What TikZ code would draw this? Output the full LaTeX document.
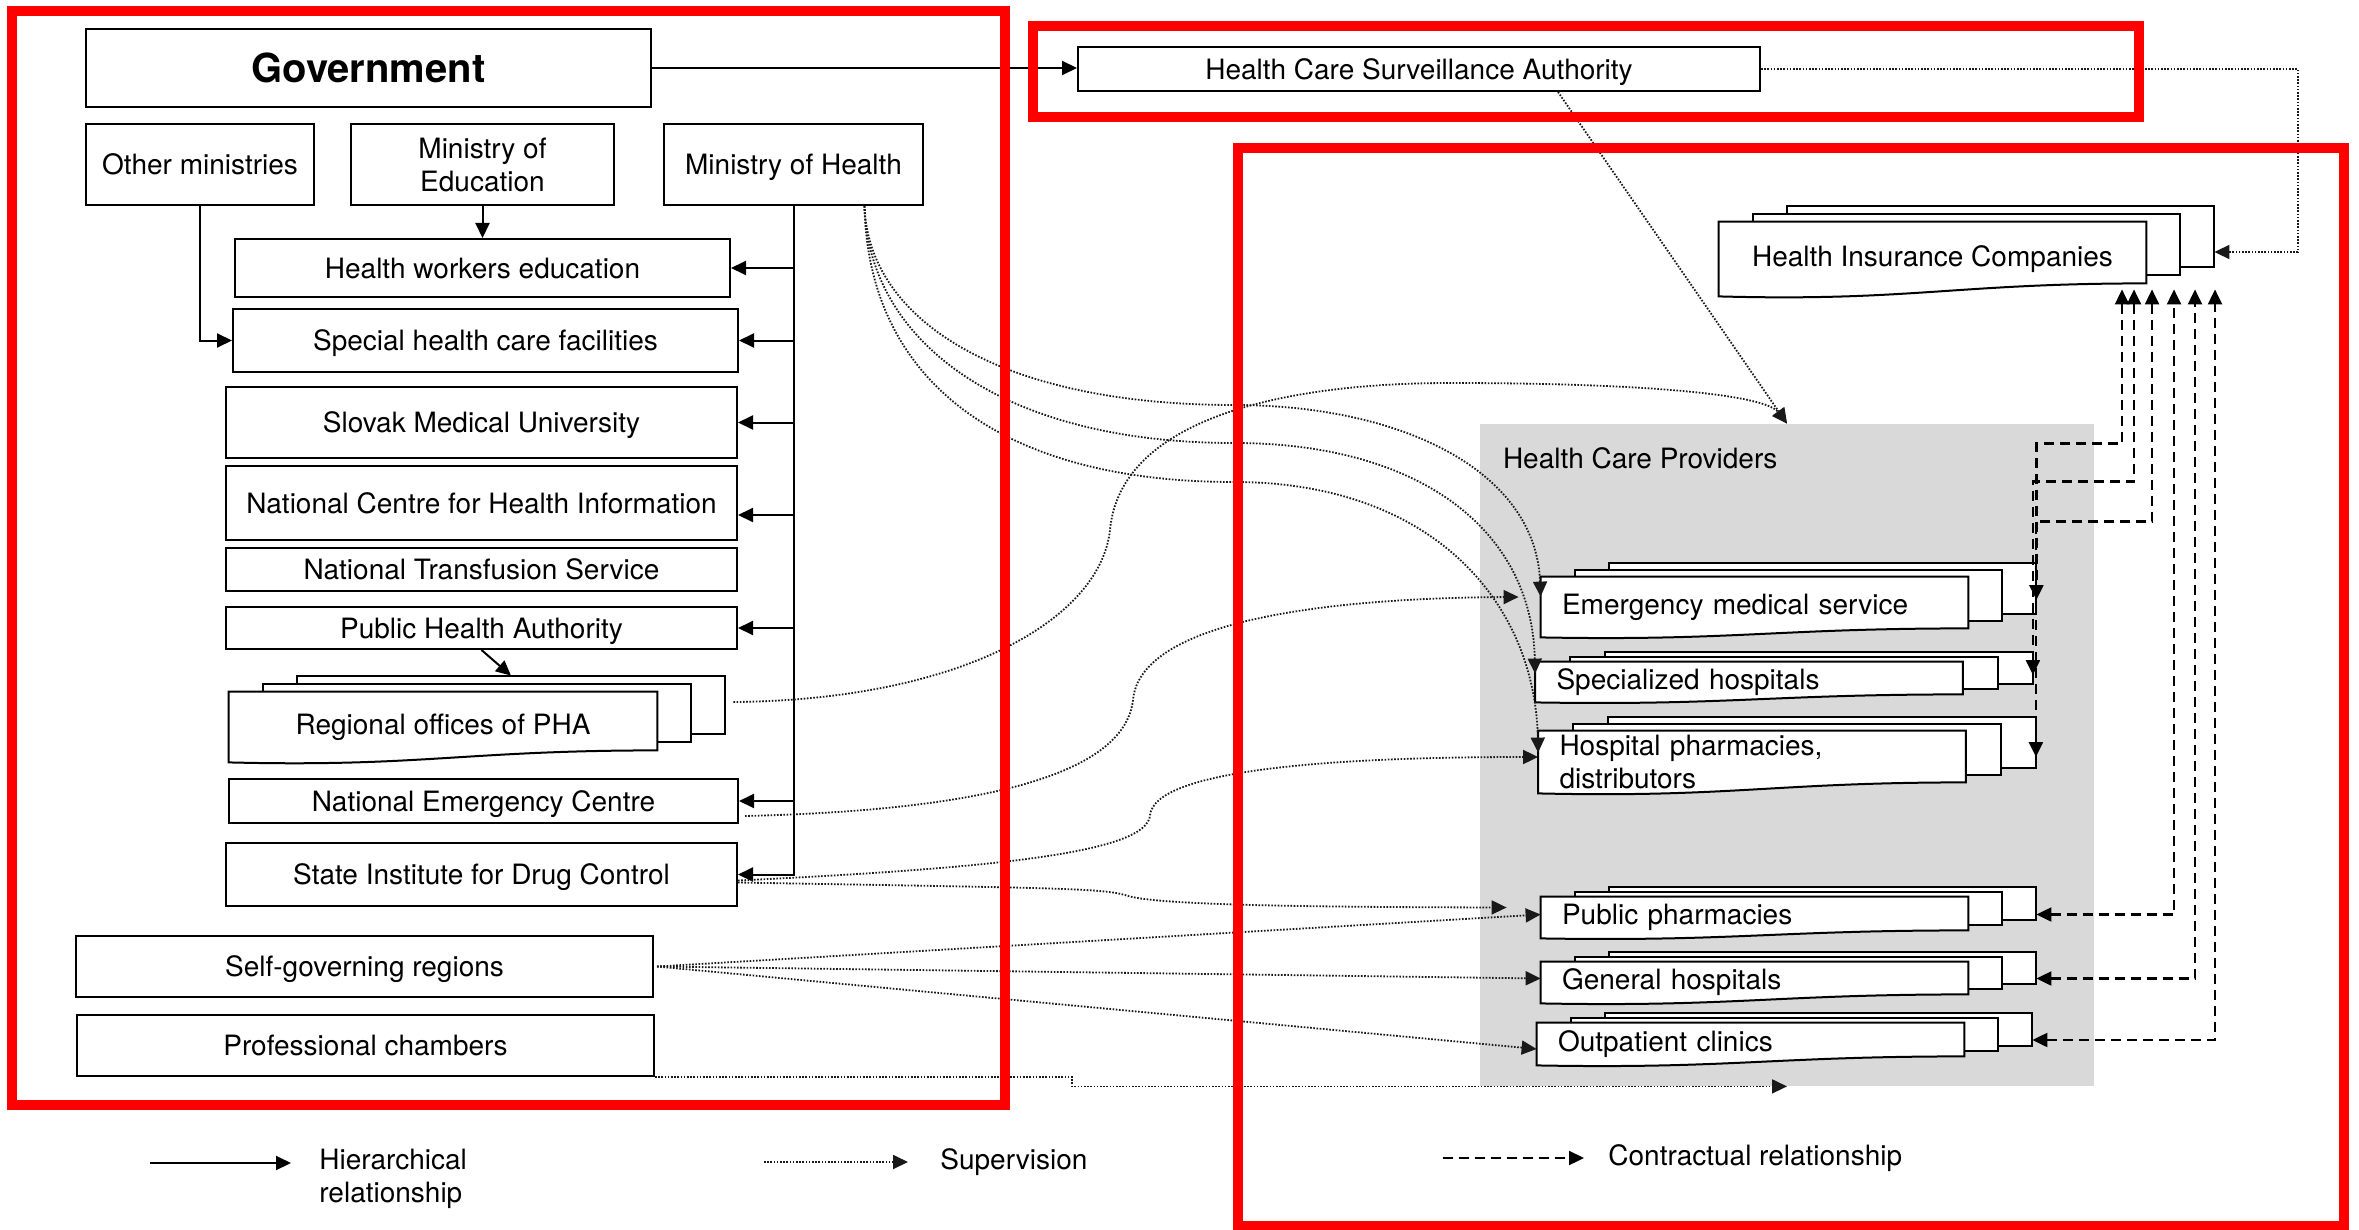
\documentclass[tikz,border=0pt]{standalone}
\usepackage{fontspec}
\setmainfont{TeX Gyre Heros}
\usetikzlibrary{arrows.meta,calc}
\pgfdeclarelayer{back}
\pgfsetlayers{back,main}
\newcommand\docstack[4]{%
  \begin{pgfonlayer}{back}
    \draw[stackline] ($(#1.north west)+(2*#2,-2*#3)$) rectangle ($(#1.south east)+(2*#2,-2*#3-#4)$);
    \draw[stackline] ($(#1.north west)+(#2,-#3)$) rectangle ($(#1.south east)+(#2,-#3-#4)$);
    \draw[stackline] (#1.north west) -- (#1.north east) -- ($(#1.south east)+(0,-#4)$)
      .. controls ($(#1.south east)!0.45!(#1.south west)+(0,-#4)$) and ($(#1.south west)!0.45!(#1.south east)+(0,0.4*#4)$) .. (#1.south west) -- cycle;
  \end{pgfonlayer}}
\begin{document}
\begin{tikzpicture}[x=0.5pt,y=-0.5pt,
    font=\fontsize{14}{16.5}\selectfont,
    >={Triangle[length=7.5pt,width=7pt]},
    box/.style={draw,line width=1pt,inner sep=0pt,align=center,text depth=0pt},
    stackline/.style={line width=1pt,fill=white},
    doc/.style={inner sep=0pt,minimum width=214pt,align=center},
    prov/.style={inner xsep=10.5pt,inner ysep=0pt,text width=192.5pt,align=left},
    hier/.style={->,line width=1pt},
    superv/.style={->,line width=0.9pt,black!90,dash pattern=on 0.8pt off 0.8pt},
    contract/.style={line width=1.1pt,dash pattern=on 5pt off 3pt},
    redframe/.style={draw=red,line width=5pt}]
  \useasboundingbox (0,0) rectangle (2359,1230);

  \begin{pgfonlayer}{back}
    \node[fill=black!15,inner sep=0pt,minimum width=307pt,minimum height=331pt] (hcp) at (1787,755) {};
  \end{pgfonlayer}
  \node[anchor=west,inner sep=0pt] (hcplabel) at ($(hcp.north west)+(23,35)$) {Health Care Providers};

  \node[box,minimum width=282.5pt,minimum height=39pt,font=\bfseries\fontsize{20}{24}\selectfont] (gov) at (368.5,68) {Government};
  \node[box,minimum width=114pt,minimum height=40.5pt] (othmin) at (200,164.5) {Other ministries};
  \node[box,minimum width=131.5pt,minimum height=40.5pt] (moe) at (482.5,164.5) {Ministry of\\Education};
  \node[box,minimum width=129.5pt,minimum height=40.5pt] (moh) at (793.5,164.5) {Ministry of Health};
  \node[box,minimum width=247.5pt,minimum height=29pt] (hwe) at (482.5,268) {Health workers education};
  \node[box,minimum width=252.5pt,minimum height=31.5pt] (shcf) at (485.5,340.5) {Special health care facilities};
  \node[box,minimum width=255.5pt,minimum height=35.5pt] (smu) at (481.5,422.5) {Slovak Medical University};
  \node[box,minimum width=255.5pt,minimum height=37pt] (nchi) at (481.5,503) {National Centre for Health Information};
  \node[box,minimum width=255.5pt,minimum height=21.5pt] (nts) at (481.5,569.5) {National Transfusion Service};
  \node[box,minimum width=255.5pt,minimum height=21pt] (pha) at (481.5,628) {Public Health Authority};
  \node[box,minimum width=254.5pt,minimum height=22pt] (nec) at (483.5,801) {National Emergency Centre};
  \node[box,minimum width=255.5pt,minimum height=31.5pt] (sidc) at (481.5,874.5) {State Institute for Drug Control};
  \node[box,minimum width=288.5pt,minimum height=30.5pt] (sgr) at (364.5,966.5) {Self-governing regions};
  \node[box,minimum width=288.5pt,minimum height=30.5pt] (pch) at (365.5,1045.5) {Professional chambers};
  \node[box,minimum width=341pt,minimum height=22pt] (hcsa) at (1419,69) {Health Care Surveillance Authority};

  \node[doc,minimum height=35pt] (roph) at (443,727) {Regional offices of PHA};
  \docstack{roph}{34}{8}{12}
  \node[doc,minimum width=213.5pt,minimum height=37pt] (hic) at (1932.5,259) {Health Insurance Companies};
  \docstack{hic}{34}{8}{13}
  \node[prov,minimum height=30pt] (ems) at (1754.5,607) {Emergency medical service};
  \docstack{ems}{34}{7}{9}
  \node[prov,minimum height=20pt] (sh) at (1749,682) {Specialized hospitals};
  \docstack{sh}{35}{5}{8}
  \node[prov,minimum height=31pt] (hp) at (1752,762) {Hospital pharmacies,\\distributors};
  \docstack{hp}{35}{7}{11}
  \node[prov,minimum height=20.5pt] (pp) at (1754.5,917.5) {Public pharmacies};
  \docstack{pp}{34}{5}{8}
  \node[prov,minimum height=20.5pt] (gh) at (1754.5,982.5) {General hospitals};
  \docstack{gh}{34}{5}{9}
  \node[prov,minimum height=21pt] (oc) at (1750.5,1044) {Outpatient clinics};
  \docstack{oc}{34}{5}{9}

  \draw[hier] (gov.east) -- (gov.east -| hcsa.west);
  \draw[hier] (othmin.south) |- (shcf.west);
  \draw[hier] (moe) -- (hwe);
  \draw[hier] (moh.south) |- (sidc.east);
  \foreach \n/\dy in {hwe/0,shcf/0,smu/0,nchi/12,pha/0,nec/0}
    \draw[hier] ($(moh.south |- \n.east)+(0,\dy)$) -- ($(\n.east)+(0,\dy)$);
  \draw[hier] (pha.south) -- ($(roph.north)+(68,-16)$);

  \draw[superv] (hcsa.east) -- ++(537,0) |- ($(hic.east)+(68,-7)$);
  \draw[superv] ($(hcsa.south)+(139,0)$) -- (hcp.north);
  \coordinate (mohs) at ($(moh.south)+(71,0)$);
  \draw[superv] (mohs) .. controls (868,320) and (1000,405) .. (1234,405) .. controls (1400,405) and (1536,470) .. ($(ems.north west)+(0,20)$);
  \draw[superv] (mohs) .. controls (868,340) and (1000,443) .. (1234,443) .. controls (1420,443) and (1532,530) .. ($(sh.north west)+(0,12)$);
  \draw[superv] (mohs) .. controls (868,380) and (1000,482) .. (1234,482) .. controls (1430,482) and (1535,600) .. ($(hp.north west)+(0,22)$);
  \draw[superv] ($(roph.east)+(76,-25)$) .. controls (960,700) and (1100,620) .. (1110,530) .. controls (1120,420) and (1280,383) .. (1450,383) .. controls (1650,383) and (1765,395) .. (hcp.north);
  \draw[superv] ($(nec.east)+(6,15)$) .. controls (1000,810) and (1125,770) .. (1133,700) .. controls (1140,620) and (1330,598) .. ($(ems.west)+(-22,-10)$);
  \draw[superv] ($(sidc.east)+(0,6)$) .. controls (1000,868) and (1148,852) .. (1150,815) .. controls (1155,770) and (1330,757) .. ($(hp.west)+(0,-5)$);
  \draw[superv] ($(sidc.east)+(0,8)$) .. controls (1050,888) and (1100,888) .. (1125,895) .. controls (1150,905) and (1300,907) .. ($(pp.west)+(-34,-10)$);
  \foreach \t/\dy in {pp/-3,gh/-4,oc/5}
    \draw[superv] ($(sgr.east)+(3,0)$) -- ($(\t.west)+(0,\dy)$);
  \draw[superv] (pch.south east) -- ++(417,0) |- (hcp.south);

  \draw[contract,<->] ($(pp.east)+(68,-3)$) -| ($(hic.south)+(241.5,-7)$);
  \draw[contract,<->] ($(gh.east)+(68,-4)$) -| ($(hic.south)+(262.5,-7)$);
  \draw[contract,<->] ($(oc.east)+(68,-4)$) -| ($(hic.south)+(282.5,-7)$);
  \draw[contract,<->] ($(hic.south)+(189.5,-7)$) -- ++(0,154) -| ($(ems.east)+(68,-7)$);
  \draw[contract,<->] ($(hic.south)+(201.5,-7)$) -- ++(0,192) -| ($(sh.east)+(70,-7)$);
  \draw[contract,<->] ($(hic.south)+(219.5,-7)$) -- ++(0,232) -| ($(hp.east)+(70,-5)$);

  \draw[redframe] (12,11) rectangle (1005,1105);
  \draw[redframe] (1033,26) rectangle (2139,117);
  \draw[redframe] (1238,148) rectangle (2344,1226);

  \coordinate (lghier) at (150,1163);
  \coordinate (lgsup) at (764,1162);
  \coordinate (lgcon) at (1443,1158);
  \draw[hier] (lghier) -- ++(141,0);
  \draw[superv] (lgsup) -- ++(144,0);
  \draw[contract,->] (lgcon) -- ++(141,0);
  \node[anchor=west,align=left,inner sep=0pt] (lghiertxt) at (319,1179) {Hierarchical\\relationship};
  \node[anchor=west,inner sep=0pt] (lgsuptxt) at (940,1162) {Supervision};
  \node[anchor=west,inner sep=0pt] (lgcontxt) at (1608,1158) {Contractual relationship};
\end{tikzpicture}
\end{document}
